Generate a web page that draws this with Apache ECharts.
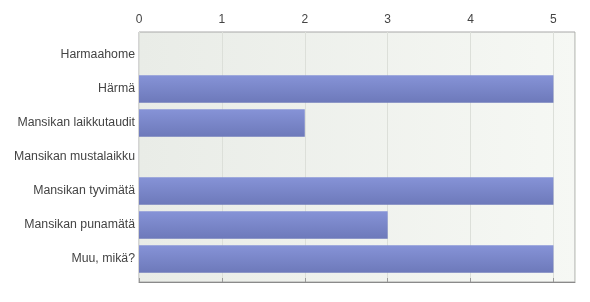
<!DOCTYPE html>
<html><head><meta charset="utf-8">
<script src="https://cdn.jsdelivr.net/npm/echarts@6/dist/echarts.min.js"></script>
<style>html,body{margin:0;padding:0;background:#fff}#c{width:590px;height:302px}</style>
</head><body><div id="c"></div>
<script>
const categories = ["Harmaahome", "Härmä", "Mansikan laikkutaudit", "Mansikan mustalaikku", "Mansikan tyvimätä", "Mansikan punamätä", "Muu, mikä?"];
const values = [0, 5, 2, 0, 5, 3, 5];
const tickLabels = ["0", "1", "2", "3", "4", "5"];
const axisMax = 5.26;

const chart = echarts.init(document.getElementById('c'), null, {renderer: 'canvas'});
const font = '"Liberation Sans", Arial, sans-serif';
chart.setOption({
  animation: false,
  grid: [
    {left: 139, right: 15, top: 32, bottom: 20, show: true, borderColor: '#a8a8a8', borderWidth: 1,
     backgroundColor: {type: 'linear', x: 0, y: 0, x2: 1, y2: 0,
       colorStops: [{offset: 0, color: '#e9ece7'}, {offset: 1, color: '#f6f8f4'}]}},
    {left: 139, right: 15, top: 38, bottom: 26}
  ],
  xAxis: [
    {gridIndex: 0, type: 'value', position: 'top', min: 0, max: axisMax, interval: 1,
     axisLine: {show: true, lineStyle: {color: '#8a8a8a'}},
     axisTick: {show: true, length: 4, lineStyle: {color: '#9a9a9a'}},
     axisLabel: {color: '#444', fontFamily: font, fontSize: 12, margin: 6, showMaxLabel: false,
       formatter: v => { const i = Math.round(v); return Math.abs(v - i) < 1e-6 && tickLabels[i] !== undefined ? tickLabels[i] : ''; }},
     splitLine: {show: true, lineStyle: {color: '#dcdfd9'}}},
    {gridIndex: 1, type: 'value', min: 0, max: axisMax, show: false}
  ],
  yAxis: [
    {gridIndex: 0, type: 'value', show: false},
    {gridIndex: 1, type: 'category', data: categories, inverse: true,
     axisLine: {show: false}, axisTick: {show: false},
     axisLabel: {color: '#444', fontFamily: font, fontSize: 12.3, margin: 4}}
  ],
  series: [{
    type: 'bar', xAxisIndex: 1, yAxisIndex: 1, data: values, barCategoryGap: '19%',
    itemStyle: {color: {type: 'linear', x: 0, y: 0, x2: 0, y2: 1,
      colorStops: [{offset: 0, color: '#8693d7'}, {offset: 1, color: '#6d79ba'}]}}
  }]
});
</script></body></html>
